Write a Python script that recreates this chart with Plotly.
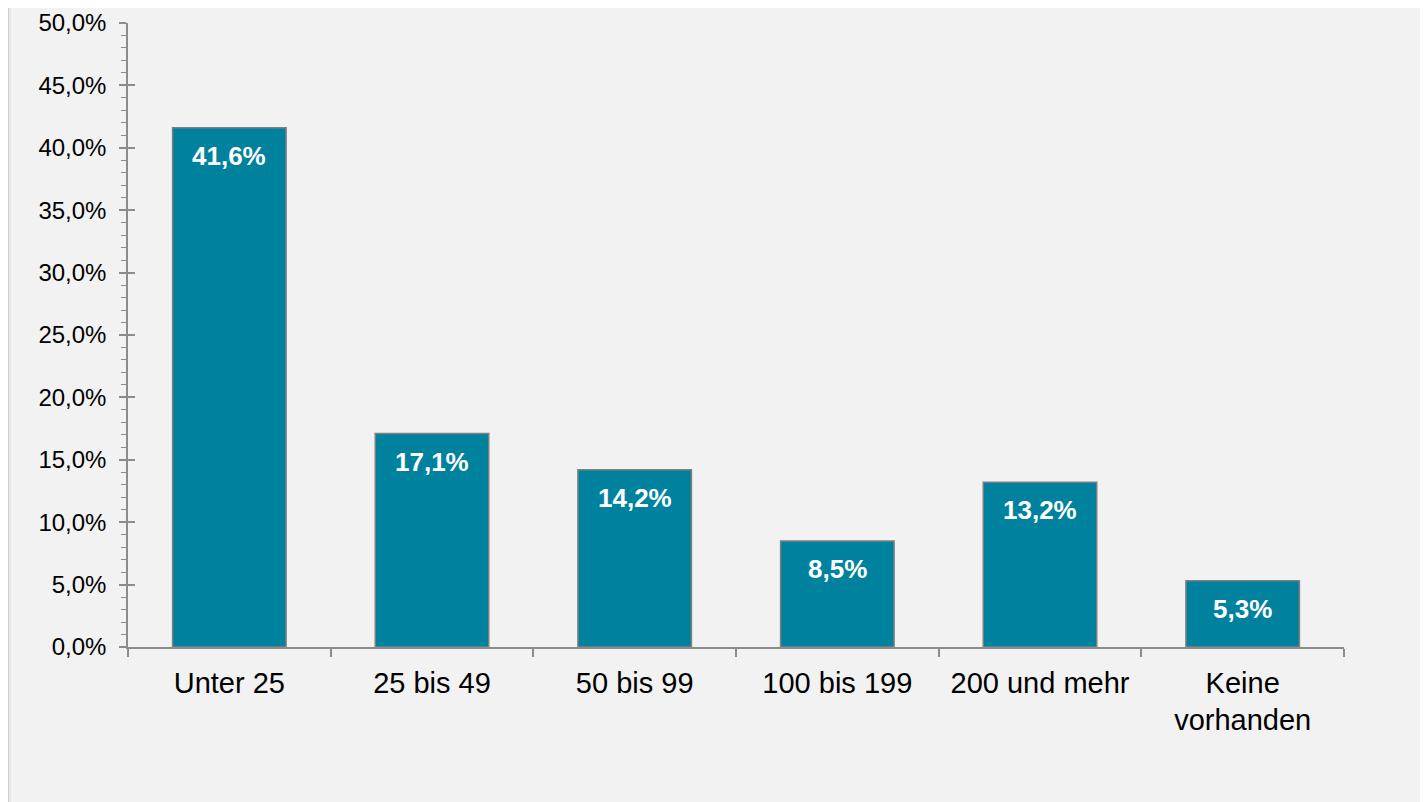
import plotly.graph_objects as go

categories = ["Unter 25", "25 bis 49", "50 bis 99", "100 bis 199", "200 und mehr", "Keine<br>vorhanden"]
values = [41.6, 17.1, 14.2, 8.5, 13.2, 5.3]
y_ticks = [0, 5, 10, 15, 20, 25, 30, 35, 40, 45, 50]
y_tick_labels = [f"{t:.1f}".replace(".", ",") + "%" for t in y_ticks]

# the page body adds an 8px offset; the white strip it leaves matches the reference frame
OFF = 8
W, H = 1428 - OFF, 802 - OFF
L, R, T, B = 128 - OFF, 84, 23 - OFF, 155
pw, ph = W - L - R, H - T - B

def px_x(p):
    return (p - L) / pw

def px_y(p):
    return (H - B - p) / ph

FONT = "Liberation Sans, Arial, sans-serif"
BAR = "#00829f"
AX = "#8c8c8c"

fig = go.Figure()
fig.add_trace(go.Bar(
    x=categories, y=values, width=0.56,
    marker=dict(color=BAR, line=dict(color="#7f7f7f", width=1.5)),
    hoverinfo="skip",
))

for c, v in zip(categories, values):
    fig.add_annotation(
        x=c, y=v, xref="x", yref="y",
        text="<b>" + f"{v:.1f}".replace(".", ",") + "%</b>",
        showarrow=False, yanchor="middle", yshift=-28,
        font=dict(family=FONT, size=26, color="white"),
    )

# soft shadow along the left edge of the panel
shapes = [
    dict(type="line", xref="paper", yref="paper", x0=px_x(0.5), x1=px_x(0.5), y0=px_y(H), y1=px_y(0),
         line=dict(color="#d0d0d0", width=1.5), layer="below"),
    dict(type="line", xref="paper", yref="paper", x0=px_x(2), x1=px_x(2), y0=px_y(H), y1=px_y(0),
         line=dict(color="#e3e3e3", width=1.5), layer="below"),
]

fig.update_layout(
    width=W, height=H,
    margin=dict(l=L, r=R, t=T, b=B, pad=0, autoexpand=False),
    paper_bgcolor="#f2f2f2", plot_bgcolor="#f2f2f2",
    showlegend=False,
    shapes=shapes,
    font=dict(family=FONT, color="black"),
    xaxis=dict(
        type="category", showgrid=False, zeroline=False, automargin=False,
        showline=True, linecolor=AX, linewidth=1.5,
        ticks="outside", ticklen=8, tickcolor=AX, tickwidth=1.5,
        tickson="boundaries",
        tickfont=dict(family=FONT, size=29, color="black"),
        ticklabelstandoff=9,
        range=[-0.5, 5.5],
    ),
    yaxis=dict(
        range=[0, 50], tickvals=y_ticks, ticktext=y_tick_labels, automargin=False,
        showgrid=False, zeroline=False,
        showline=True, linecolor=AX, linewidth=1.5,
        ticks="outside", ticklen=7, tickcolor=AX, tickwidth=1.5,
        minor=dict(dtick=1, ticks="outside", ticklen=5, tickcolor=AX, tickwidth=1.2),
        tickfont=dict(family=FONT, size=24, color="black"),
        ticklabelstandoff=8,
    ),
    yaxis2=dict(
        overlaying="y", range=[0, 50], tickvals=y_ticks, showticklabels=False, automargin=False,
        showgrid=False, zeroline=False, showline=False,
        ticks="inside", ticklen=7, tickcolor=AX, tickwidth=1.5, side="left",
    ),
)
fig.add_trace(go.Scatter(x=[categories[0]], y=[0], yaxis="y2", mode="markers",
                         marker=dict(opacity=0), hoverinfo="skip", showlegend=False))

fig.write_html("out.html")
